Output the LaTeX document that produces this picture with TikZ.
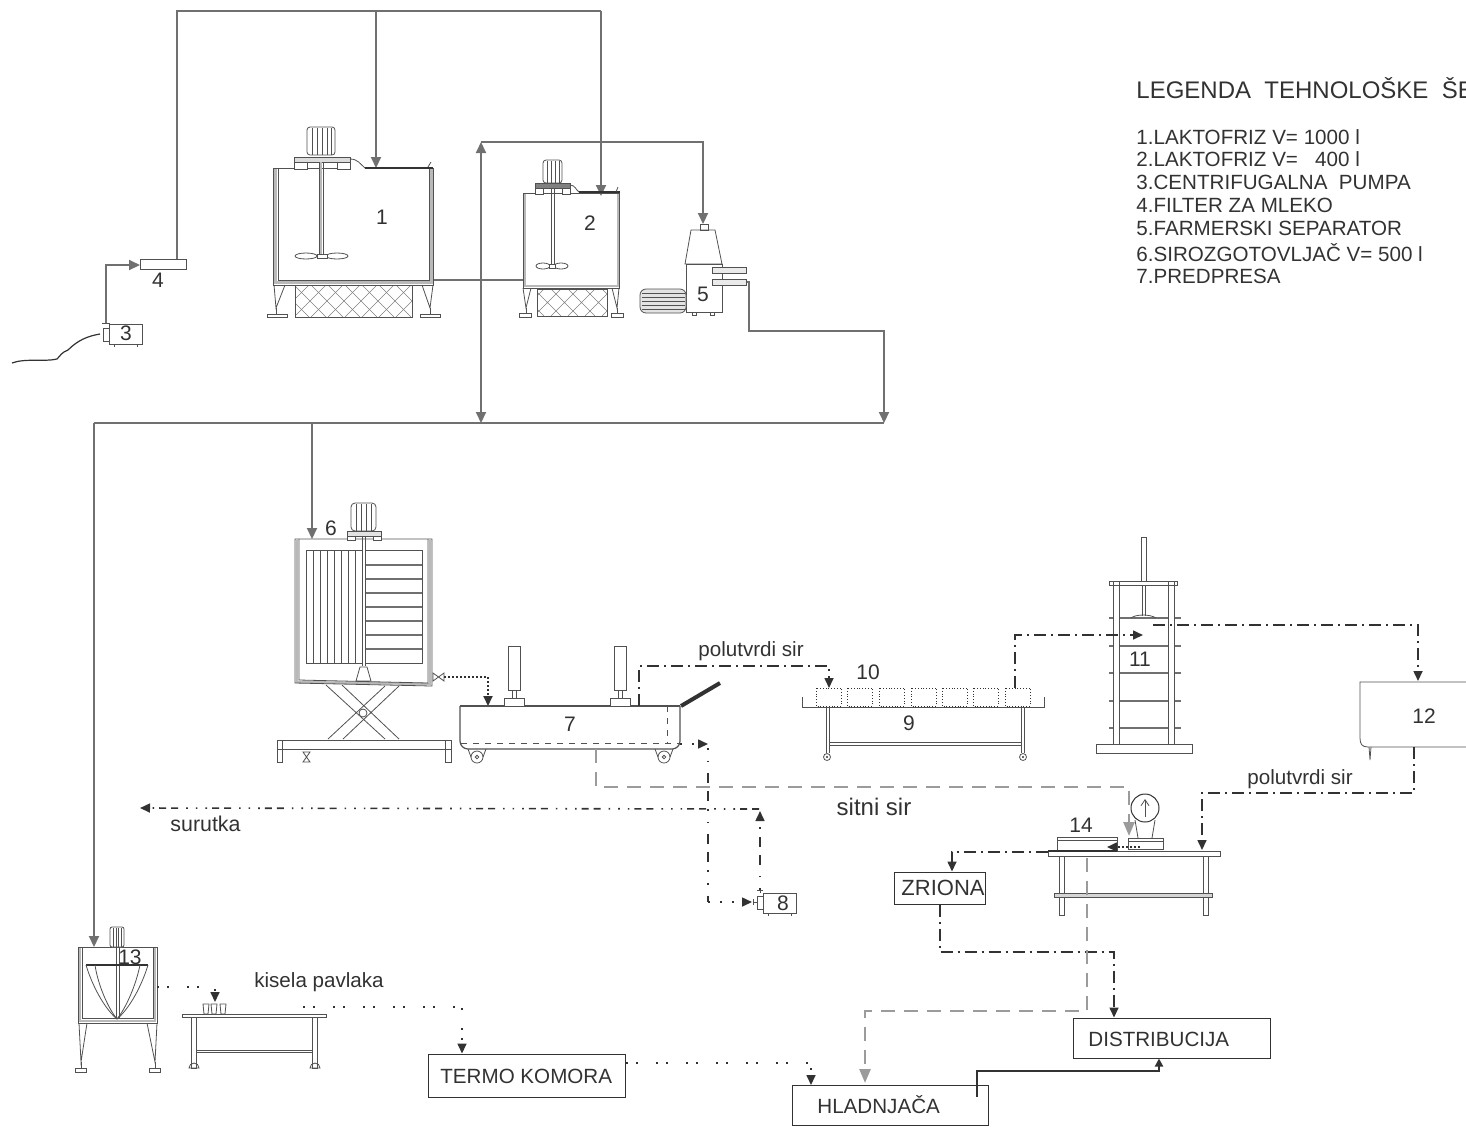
\documentclass[tikz,border=0pt]{standalone}
\usepackage{fontspec}
\setmainfont{Liberation Sans}
\usepackage{tikz}
\usetikzlibrary{arrows.meta,calc,positioning}
\definecolor{pipegray}{RGB}{112,112,112}
\definecolor{pipelight}{RGB}{155,155,155}
\definecolor{inkdark}{RGB}{50,50,50}
\definecolor{wallgray}{RGB}{185,185,185}
\tikzset{
  pipe/.style={pipegray,line width=1pt},
  pipearrow/.style={pipe,-{Triangle[length=5.5pt,width=5pt]}},
  wallline/.style={inkdark!85,line width=0.4pt},
  hatchline/.style={gray,line width=0.3pt},
  shelfline/.style={pipegray,line width=0.8pt},
  flowtip/.style={-{Triangle[length=5pt,width=4.5pt]}},
  dashdot/.style={inkdark,line width=0.8pt,dash pattern=on 6pt off 2.5pt on 1pt off 2.5pt},
  dashdotted/.style={dashdot,flowtip},
  dotflow/.style={inkdark,line width=0.9pt,dash pattern=on 1pt off 1pt},
  sparse/.style={inkdark,line width=0.8pt,dash pattern=on 1pt off 4pt on 1pt off 9pt},
  wheyline/.style={inkdark,line width=0.8pt,dash pattern=on 3.5pt off 2.5pt on 3.5pt off 2.5pt on 0.8pt off 4pt on 0.8pt off 4pt on 0.8pt off 4pt},
  wheyrise/.style={inkdark,line width=0.8pt,dash pattern=on 0.8pt off 5.5pt on 0.8pt off 5.5pt on 5pt off 4pt on 5pt off 4pt},
  graydash/.style={pipelight,line width=1.3pt,dash pattern=on 7pt off 4.5pt},
  grayflow/.style={graydash,-{Triangle[length=7pt,width=5.5pt]}},
  labeltext/.style={inkdark,font=\fontsize{10.3}{11}\selectfont,inner sep=0pt},
  numtext/.style={inkdark,font=\fontsize{10.5}{11}\selectfont,inner sep=0pt},
}
\begin{document}
\begin{tikzpicture}[x=0.5pt,y=-0.5pt,>=Stealth]
  \useasboundingbox (0,0) rectangle (1466,1126);
  % named junctions
  \coordinate (Filter) at (140,265);
  \coordinate (FilterOut) at (177,259);
  \coordinate (TopL) at (177,11);
  \coordinate (TopR) at (601,11);
  \coordinate (TopM) at (376,11);
  \coordinate (TankA) at (376,168);
  \coordinate (TankB) at (601,196);
  \coordinate (PumpUp) at (106,323);
  \coordinate (PumpBend) at (106,265);
  \coordinate (SepIn) at (703,224);
  \coordinate (CreamTop) at (481,142);
  \coordinate (CreamTopR) at (703,142);
  \coordinate (MainW) at (94,423);
  \coordinate (MainE) at (884,423);
  \coordinate (MainC) at (481,423);
  \coordinate (MainT) at (312,423);
  \coordinate (VatIn) at (312,539);
  \coordinate (SourIn) at (94,947);
  \coordinate (SepOut) at (746,282);
  \coordinate (SepA) at (749,282);
  \coordinate (SepB) at (749,331);
  \coordinate (SepC) at (884,331);

  % pipes top
  \draw[pipe] (FilterOut)--(TopL)--(TopR);
  \draw[pipearrow] (TopR)--(TankB);
  \draw[pipearrow] (TopM)--(TankA);
  \draw[pipearrow] (PumpUp)--(PumpBend)--(Filter);
  \draw[pipe] (433,280)--(523,280);
  \draw[pipe,{Triangle[length=5.5pt,width=5pt]}-{Triangle[length=5.5pt,width=5pt]}] (CreamTop)--(MainC);
  \draw[pipearrow] (CreamTop)--(CreamTopR)--(SepIn);
  \draw[pipearrow] (SepOut)--(SepA)--(SepB)--(SepC)--(MainE);
  \draw[pipe] (MainW)--(MainE);
  \draw[pipearrow] (MainT)--(VatIn);
  \draw[pipearrow] (MainW)--(SourIn);

  % filter 4, pump 3
  \draw[wallline,fill=white] (140,259) rectangle (186,269);
  \node[numtext] (n4) at (158,280) {4};
  \draw[wallline] (109,324) rectangle (142,344);
  \draw[wallline] (103,328) rectangle (109,341);
  \draw[wallline] (102,323)--(110,323);
  \draw[wallline] (114,344)--(114,347) (137,344)--(137,347);
  \node[numtext] (n3) at (126,333) {3};
  \draw[inkdark,line width=0.6pt] (100,334) .. controls (88,336) and (78,340) .. (68,350)
    .. controls (62,352) and (60,356) .. (57,359) .. controls (45,362) and (25,358) .. (12,363);

  % tank 1
  \draw[wallgray,line width=1.5pt] (275,169)--(275,282)--(431,282)--(431,169);
  \draw[wallline] (273,168)--(273,285)--(433,285)--(433,168);
  \draw[wallline] (278,168)--(278,280)--(429,280)--(429,168);
  \draw[wallline] (273,168)--(350,168);
  \draw[wallline] (274,285)--(276,308)--(285,285) (422,285)--(430,308)--(433,285);
  \draw[wallline,fill=white] (267,314) rectangle (287,317) (420,314) rectangle (440,317);
  \draw[wallline] (276,308)--(276,314) (430,308)--(430,314);
  \begin{scope}
    \clip (295,285) rectangle (412,317);
    \foreach \hx in {260,277,...,420} \draw[hatchline] (\hx,285)--++(32,32) (\hx,317)--++(32,-32);
  \end{scope}
  \draw[wallline] (295,285) rectangle (412,317);
  \draw[wallline,fill=white,rounded corners=1.5pt] (307,127) rectangle (335,155);
  \foreach \mx in {312,317,322,327,331} \draw[wallline] (\mx,128)--(\mx,155);
  \draw[wallline,fill=wallgray!50] (294,157) rectangle (350,162);
  \draw[wallline,fill=white] (294,162) rectangle (307,169) (337,162) rectangle (350,169);
  \draw[wallgray,line width=1.2pt] (321,162)--(321,254);
  \draw[wallline] (319,162)--(319,254) (323,162)--(323,254);
  \draw[wallline] (306,256) ellipse (11 and 3) (337,256) ellipse (11 and 3);
  \draw[wallline,fill=white] (317,254) rectangle (327,258);
  \draw[wallline] (350,159) .. controls (358,159) and (360,164) .. (365,168);
  \draw[inkdark,line width=0.7pt] (365,168)--(433,168);
  \draw[wallline] (428,167)--(431,162);
  \node[numtext] (n1) at (382,217) {1};

  % tank 2
  \draw[wallgray,line width=1.1pt] (525,194)--(525,286)--(618,286)--(618,194);
  \draw[wallline] (523,193)--(523,288)--(619,288)--(619,193)--cycle;
  \draw[wallline] (523,288)--(526,308)--(531,288) (612,288)--(617,308)--(619,288);
  \draw[wallline,fill=white] (519,313) rectangle (531,317) (611,313) rectangle (623,317);
  \draw[wallline] (526,308)--(526,313) (617,308)--(617,313);
  \begin{scope}
    \clip (537,289) rectangle (607,316);
    \foreach \hx in {500,517,...,620} \draw[hatchline] (\hx,289)--++(27,27) (\hx,316)--++(27,-27);
  \end{scope}
  \draw[wallline] (537,289) rectangle (607,316);
  \draw[wallline,fill=white,rounded corners=1.5pt] (543,160) rectangle (562,183);
  \foreach \mx in {547,551,555,559} \draw[wallline] (\mx,161)--(\mx,183);
  \draw[wallline,fill=gray] (535,183) rectangle (570,188);
  \draw[wallline,fill=white] (535,188) rectangle (543,194) (562,188) rectangle (570,194);
  \draw[wallline] (551,188)--(551,264) (554,188)--(554,264);
  \draw[wallline] (543,266) ellipse (7 and 3) (561,266) ellipse (7 and 3);
  \draw[wallline,fill=white] (549,264) rectangle (555,268);
  \draw[wallline] (570,185) .. controls (575,185) and (576,190) .. (579,192);
  \draw[inkdark,line width=0.7pt] (579,192)--(620,192);
  \draw[wallline] (616,192)--(618,187);
  \node[numtext] (n2) at (590,223) {2};

  % separator 5
  \draw[wallline,fill=white] (700,224) rectangle (708,230);
  \draw[wallline] (691,230)--(715,230)--(722,264)--(685,264)--cycle;
  \draw[wallline] (686,264) rectangle (722,312);
  \draw[wallline] (692,312) rectangle (696,315) (710,312) rectangle (714,315);
  \draw[wallline,fill=wallgray!30] (712,267) rectangle (746,273) (712,279) rectangle (746,285);
  \draw[wallline,fill=wallgray!40,rounded corners=3pt] (640,289) rectangle (686,313);
  \foreach \my in {293,297,301,305,309} \draw[wallline] (642,\my)--(685,\my);
  \node[numtext] (n5) at (703,294) {5};

  % vat 6
  \draw[wallgray,line width=1.2pt] (297,540)--(297,682)--(430,684)--(430,540);
  \draw[wallline] (295,539)--(295,683)--(432,686)--(432,539)--cycle;
  \draw[wallline] (299,539)--(299,680)--(428,683)--(428,539);
  \draw[wallline] (306,550) rectangle (362,663);
  \foreach \vx in {313,320,327,334,341,348,355} \draw[wallline] (\vx,550)--(\vx,663);
  \draw[wallline] (365,550) rectangle (422,663);
  \foreach \vy in {565,579,593,607,621,635,649} \draw[shelfline,line width=0.6pt] (365,\vy)--(422,\vy);
  \draw[wallline] (362,535)--(362,666) (365,535)--(365,666);
  \draw[wallline] (360,667)--(367,667)--(371,681)--(356,681)--cycle;
  \draw[wallline,fill=white,rounded corners=2pt] (351,503) rectangle (376,531);
  \foreach \mx in {356,361,366,371} \draw[wallline] (\mx,504)--(\mx,531);
  \draw[wallline,fill=wallgray!40] (347,531) rectangle (381,536);
  \draw[wallline,fill=white] (347,536) rectangle (355,540) (373,536) rectangle (381,540);
  \node[numtext] (n6) at (331,528) {6};
  % scissor lift
  \draw[wallline] (326,685)--(385,739) (342,685)--(399,739) (385,686)--(328,739) (399,686)--(343,739);
  \draw[wallline,fill=white] (363,713) circle (4);
  \draw[wallline] (277,740) rectangle (451,749);
  \draw[wallline] (277,740) rectangle (282,762) (445,740) rectangle (451,762);
  \draw[wallline] (303,752)--(310,752)--(303,762)--(310,762)--cycle;
  \draw[wallline] (433,673)--(444,681)--(444,673)--(433,681)--cycle;
  \coordinate (VatOut) at (444,677);
  \coordinate (CurdBend) at (488,677);
  \coordinate (CurdIn) at (488,706);
  \draw[dotflow,flowtip] (VatOut)--(CurdBend)--(CurdIn);

  % press tub 7
  \draw[inkdark!85,line width=0.6pt,rounded corners=4pt] (460,706)--(460,749)--(680,749)--(680,706);
  \draw[inkdark!85,line width=0.6pt] (460,706)--(680,706);
  \draw[wallline,dashed] (461,743)--(680,743) (667,706)--(667,743);
  \foreach \lx in {514,620}{
    \draw[wallline,fill=white] ($(\lx,646)+(-6,0)$) rectangle ($(\lx,690)+(6,0)$);
    \draw[wallline] ($(\lx,690)+(-2,0)$) rectangle ($(\lx,698)+(2,0)$);
    \draw[wallline,fill=white] ($(\lx,698)+(-10,0)$) rectangle ($(\lx,706)+(10,0)$);
  }
  \draw[inkdark,line width=2pt] (681,706)--(720,683);
  \foreach \wx in {477,664}{
    \draw[wallline] (\wx,757) circle (6);
    \draw[wallline] (\wx,757) circle (1.8);
    \draw[wallline] ($(\wx,749)+(-9,0)$)--($(\wx,757)+(-6,0)$) ($(\wx,749)+(9,0)$)--($(\wx,757)+(6,0)$);
  }
  \node[numtext] (n7) at (570,724) {7};

  % forming table 9, moulds 10
  \draw[inkdark!85,line width=0.5pt] (802,697)--(802,707)--(1044,707)--(1044,697);
  \draw[wallline] (826,707)--(826,753) (829,707)--(829,753) (1021,707)--(1021,753) (1024,707)--(1024,753);
  \draw[wallline] (829,742) rectangle (1021,745);
  \foreach \wx in {827,1023} {\draw[wallline] (\wx,757) circle (3.5); \fill[inkdark] (\wx,757) circle (1.2);}
  \foreach \bx in {816,847,879,911,942,973,1005}
    \draw[inkdark,line width=0.4pt,densely dotted] (\bx,688) rectangle ++(25,18);
  \node[numtext] (n9) at (909,723) {9};
  \node[numtext] (n10) at (868,672) {10};

  % press 11
  \draw[wallline,fill=white] (1096,744) rectangle (1192,753);
  \foreach \sy in {618,646,673,701,728} \draw[shelfline] (1109,\sy)--(1181,\sy);
  \draw[wallline,fill=white] (1113,581) rectangle (1119,744) (1168,581) rectangle (1174,744);
  \draw[wallline] (1109,581) rectangle (1177,585);
  \draw[wallline,fill=white] (1141,537) rectangle (1146,581);
  \draw[wallline] (1142,585)--(1142,616) (1145,585)--(1145,616);
  \draw[wallline] (1131,618) .. controls (1136,614) and (1150,614) .. (1156,618);
  \node[numtext] (n11) at (1140,659) {11};

  % table 12
  \draw[wallline] (1466,682)--(1360,682)--(1360,738) .. controls (1360,744) and (1362,747) .. (1368,747)--(1466,747);
  \draw[wallline] (1369,747)--(1370,760)--(1371,747);
  \node[numtext] (n12) at (1424,716) {12};

  % table 14 and scale
  \draw[wallline,fill=white] (1059,856) rectangle (1064,915) (1203,856) rectangle (1208,915);
  \draw[wallline,fill=wallgray!60] (1054,893) rectangle (1212,897);
  \draw[wallline,fill=white] (1057,837) rectangle (1117,852);
  \draw[wallline] (1057,840)--(1117,840);
  \draw[wallline,fill=white] (1048,851) rectangle (1220,856);
  \draw[inkdark,line width=0.7pt] (1048,851)--(1117,851);
  \draw[wallline] (1128,838) rectangle (1163,849);
  \draw[wallline] (1128,841)--(1163,841);
  \draw[wallline] (1135,820)--(1138,838) (1155,820)--(1152,838);
  \node[draw=inkdark,line width=0.5pt,circle,minimum size=14pt,inner sep=0pt,fill=white] (Scale) at (1145,808) {};
  \draw[wallline,-{Straight Barb[length=3pt,width=4pt]}] (1145,817)--(1145,799);
  \node[numtext] (n14) at (1081,825) {14};

  % pump 8
  \draw[wallline] (763,893) rectangle (796,913);
  \draw[wallline] (757,896) rectangle (763,909);
  \draw[wallline] (768,913)--(768,916) (791,913)--(791,916);
  \draw[wallline] (757,890)--(763,890) (760,890)--(760,893);
  \draw[wallline] (753,899)--(753,905) (753,902)--(757,902);
  \node[numtext] (n8) at (783,903) {8};

  % tank 13
  \draw[wallgray,line width=1.2pt] (80,948)--(80,1021)--(155,1021)--(155,948);
  \draw[wallline] (78,947) rectangle (157,1023);
  \draw[wallline] (82,947)--(82,1018)--(153,1018)--(153,947);
  \draw[wallline,fill=white,rounded corners=1pt] (110,927) rectangle (124,947);
  \foreach \mx in {113,116,118,121} \draw[wallline] (\mx,928)--(\mx,947);
  \draw[wallline] (116,947)--(116,1019) (119,947)--(119,1019);
  \draw[inkdark,line width=0.6pt] (86,965)--(148,965);
  \draw[wallline] (86,965) .. controls (92,985) and (104,1008) .. (117,1019);
  \draw[wallline] (95,965) .. controls (98,985) and (108,1008) .. (117,1019);
  \draw[wallline] (148,965) .. controls (142,985) and (130,1008) .. (117,1019);
  \draw[wallline] (140,965) .. controls (136,985) and (126,1008) .. (117,1019);
  \draw[wallline] (79,1023)--(81,1062)--(87,1023) (147,1023)--(155,1062)--(157,1023);
  \draw[wallline] (81,1062)--(81,1068) (155,1062)--(155,1068);
  \draw[wallline,fill=white] (75,1068) rectangle (86,1072) (149,1068) rectangle (160,1072);
  \node[numtext] (n13) at (130,957) {13};

  % table with cups
  \draw[wallline,fill=white] (191,1017) rectangle (196,1068) (312,1017) rectangle (317,1068);
  \draw[wallline] (196,1050) rectangle (312,1052);
  \draw[wallline] (182,1014) rectangle (326,1017);
  \draw[wallline] (189,1068) arc[start angle=180,end angle=360,x radius=5,y radius=5]--cycle;
  \draw[wallline] (310,1068) arc[start angle=180,end angle=360,x radius=5,y radius=5]--cycle;
  \foreach \cx in {206,214,223}
    \draw[wallline] ($(\cx,1004)+(-3,0)$)--($(\cx,1014)+(-2,0)$)--($(\cx,1014)+(2,0)$)--($(\cx,1004)+(3,0)$)--cycle;

  % room boxes
  \node[draw=inkdark,line width=0.5pt,minimum width=45.5pt,minimum height=16pt,inner sep=0pt] (Zriona) at (939.5,888) {};
  \node[labeltext,font=\fontsize{11}{11}\selectfont] (ZrionaText) at (943,888) {ZRIONA};
  \node[draw=inkdark,line width=0.5pt,minimum width=98.5pt,minimum height=20pt,inner sep=0pt] (Distr) at (1171.5,1038) {};
  \node[labeltext,anchor=west] (DistrText) at (1088,1039) {DISTRIBUCIJA};
  \node[draw=inkdark,line width=0.5pt,minimum width=98.5pt,minimum height=21.5pt,inner sep=0pt] (Termo) at (527,1075.5) {};
  \node[labeltext,anchor=west] (TermoText) at (440,1076) {TERMO KOMORA};
  \node[draw=inkdark,line width=0.5pt,minimum width=98pt,minimum height=20pt,inner sep=0pt] (Hlad) at (890,1105.5) {};
  \node[labeltext,anchor=west] (HladText) at (817,1105) {HLADNJAČA};

  % flows
  \coordinate (PolA) at (639,706); \coordinate (PolB) at (639,666);
  \coordinate (PolC) at (829,666); \coordinate (PolD) at (829,688);
  \draw[dashdotted] (PolA)--(PolB)--(PolC)--(PolD);
  \coordinate (MouldA) at (1015,688); \coordinate (MouldB) at (1015,635); \coordinate (PressIn) at (1143,635);
  \draw[dashdotted] (MouldA)--(MouldB)--(PressIn);
  \coordinate (PressOut) at (1153,625); \coordinate (ChillA) at (1418,625); \coordinate (ChillB) at (1418,681);
  \draw[dashdotted] (PressOut)--(ChillA)--(ChillB);
  \coordinate (TabA) at (1414,747); \coordinate (TabB) at (1414,793); \coordinate (TabC) at (1202,793); \coordinate (TabD) at (1202,850);
  \draw[dashdotted] (TabA)--(TabB)--(TabC)--(TabD);
  \coordinate (RipenA) at (1048,852); \coordinate (RipenB) at (952,852);
  \draw[dashdotted] (RipenA)--(RipenB)--(Zriona.north -| RipenB);
  \coordinate (RipenC) at (940,952); \coordinate (RipenD) at (1114,952);
  \draw[dashdotted] (Zriona.south -| RipenC)--(RipenC)--(RipenD)--(Distr.north -| RipenD);
  \coordinate (WheyA) at (680,744); \coordinate (WheyB) at (708,744);
  \draw[inkdark,line width=0.8pt,dash pattern=on 1pt off 5pt,flowtip] (WheyA)--(WheyB);
  \coordinate (WheyC) at (708,748); \coordinate (WheyD) at (708,902); \coordinate (PumpIn) at (752,902);
  \draw[wheyrise] (WheyC)--(WheyD);
  \draw[inkdark,line width=0.8pt,dash pattern=on 1pt off 5pt,flowtip] (WheyD)--(PumpIn);
  \coordinate (PumpOut) at (760,890); \coordinate (WheyE) at (760,811); \coordinate (WheyG) at (759,809); \coordinate (WheyF) at (140,808);
  \draw[wheyrise,flowtip] (PumpOut)--(WheyE);
  \draw[wheyline,flowtip] (WheyG)--(WheyF);
  \coordinate (CurdA) at (596,749); \coordinate (CurdB) at (596,787); \coordinate (CurdC) at (1129,787); \coordinate (CurdD) at (1129,836);
  \draw[grayflow] (CurdA)--(CurdB)--(CurdC)--(CurdD);
  \coordinate (ScaleOut) at (1140,847); \coordinate (BoxIn) at (1107,847);
  \draw[dotflow,flowtip] (ScaleOut)--(BoxIn);
  \coordinate (ColdA) at (1087,858); \coordinate (ColdB) at (1087,1011); \coordinate (ColdC) at (865,1011); \coordinate (ColdE) at (865,1083);
  \draw[grayflow] (ColdA)--(ColdB)--(ColdC)--(ColdE);
  \coordinate (TankOut) at (157,987); \coordinate (CupBend) at (215,987); \coordinate (CupIn) at (215,1002);
  \draw[sparse,flowtip] (TankOut)--(CupBend)--(CupIn);
  \coordinate (CreamA) at (303,1007); \coordinate (CreamB) at (462,1007);
  \draw[sparse,flowtip] (CreamA)--(CreamB)--(Termo.north -| CreamB);
  \coordinate (ColdD) at (811,1063);
  \draw[sparse,flowtip] (Termo.east |- ColdD)--(ColdD)--(Hlad.north -| ColdD);
  \coordinate (ShipS) at (977,1097); \coordinate (ShipA) at (977,1071); \coordinate (ShipB) at (1159,1071);
  \draw[inkdark,line width=1pt,-{Triangle[length=4pt,width=4pt]}] (ShipS)--(ShipA)--(ShipB)--(Distr.south -| ShipB);

  % labels
  \node[labeltext] (lbPol) at (751,651) {polutvrdi sir};
  \node[labeltext] (lbPolB) at (1300,779) {polutvrdi sir};
  \node[labeltext,font=\fontsize{12}{12}\selectfont] (lbSitni) at (874,807) {sitni sir};
  \node[labeltext,font=\fontsize{10.7}{11}\selectfont] (lbSur) at (205.5,824) {surutka};
  \node[labeltext] (lbKis) at (319,982) {kisela pavlaka};

  % legend
  \begin{scope}
    \clip (1100,60) rectangle (1466,300);
    \node[labeltext,anchor=west,font=\fontsize{12}{12}\selectfont] (legTitle) at (1136,88) {LEGENDA\ \ TEHNOLOŠKE\ \ ŠE};
  \end{scope}
  \node[labeltext,anchor=west] (leg1) at (1136,137) {1.LAKTOFRIZ V= 1000 l};
  \node[labeltext,anchor=west] (leg2) at (1136,159) {2.LAKTOFRIZ V=\ \ \ 400 l};
  \node[labeltext,anchor=west] (leg3) at (1136,182) {3.CENTRIFUGALNA\ \ PUMPA};
  \node[labeltext,anchor=west] (leg4) at (1136,205) {4.FILTER ZA MLEKO};
  \node[labeltext,anchor=west] (leg5) at (1136,228) {5.FARMERSKI SEPARATOR};
  \node[labeltext,anchor=west] (leg6) at (1136,253) {6.SIROZGOTOVLJAČ V= 500 l};
  \node[labeltext,anchor=west] (leg7) at (1136,276) {7.PREDPRESA};
\end{tikzpicture}
\end{document}
